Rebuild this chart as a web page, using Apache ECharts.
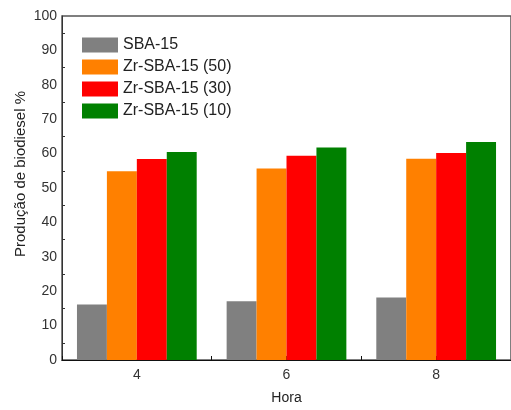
<!DOCTYPE html>
<html><head><meta charset="utf-8">
<script src="https://cdn.jsdelivr.net/npm/echarts@6/dist/echarts.min.js"></script>
<style>html,body{margin:0;padding:0;background:#fff}#c{width:511px;height:410px}</style>
</head><body><div id="c"></div>
<script>
var categories = ['4', '6', '8'];
var seriesNames = ['SBA-15', 'Zr-SBA-15 (50)', 'Zr-SBA-15 (30)', 'Zr-SBA-15 (10)'];
var sba15 = [16.1, 17.1, 18.2];
var zr50 = [54.9, 55.7, 58.5];
var zr30 = [58.4, 59.4, 60.2];
var zr10 = [60.5, 61.8, 63.4];
var colors = ['#808080', '#FF8000', '#FF0000', '#008000'];
var yTicks = [0, 10, 20, 30, 40, 50, 60, 70, 80, 90, 100];
var yName = 'Produção de biodiesel %';
var xName = 'Hora';

var values = [sba15, zr50, zr30, zr10];
var font = 'Liberation Sans, Arial, sans-serif';
var chart = echarts.init(document.getElementById('c'));
chart.setOption({
  animation: false,
  textStyle: {fontFamily: font},
  grid: {left: 62, top: 16, right: -4, bottom: 49, show: true, borderColor: '#555', borderWidth: 1.5},
  legend: {
    orient: 'vertical', left: 82, top: 37, padding: 0, itemWidth: 36, itemHeight: 15, itemGap: 6,
    textStyle: {fontSize: 16, lineHeight: 15, color: '#222', fontFamily: font, padding: [0, 0, 0, 0]},
    icon: 'rect', data: seriesNames
  },
  graphic: [{
    type: 'text', x: 21, y: 174, rotation: Math.PI / 2,
    style: {text: yName, fontSize: 15, fontFamily: font, fill: '#222', align: 'center', verticalAlign: 'middle'}
  }],
  xAxis: [{
    type: 'category', data: categories,
    name: xName, nameLocation: 'middle', nameGap: 31,
    nameTextStyle: {fontSize: 14, color: '#222'},
    axisLine: {lineStyle: {color: '#111', width: 1}},
    axisTick: {show: true, alignWithLabel: true, inside: true, length: 4, lineStyle: {color: '#111'}},
    axisLabel: {fontSize: 14, color: '#333', margin: 8}
  }, {
    type: 'category', data: categories, position: 'bottom',
    axisLine: {show: false}, axisLabel: {show: false},
    axisTick: {show: true, inside: true, length: 4, lineStyle: {color: '#111'}}
  }],
  yAxis: {
    type: 'value', min: 0, max: 100, interval: 10,
    axisLine: {show: true, lineStyle: {color: '#333'}},
    axisTick: {inside: true, length: 5, lineStyle: {color: '#333'}},
    minorTick: {show: true, splitNumber: 2, length: 3, lineStyle: {color: '#333'}},
    splitLine: {show: false},
    axisLabel: {fontSize: 14, color: '#333', margin: 5,
      formatter: function (v) { return yTicks.indexOf(v) >= 0 ? String(v) : ''; }}
  },
  series: seriesNames.map(function (n, i) {
    return {name: n, type: 'bar', data: values[i], barGap: '0%', barCategoryGap: '20%',
      itemStyle: {color: colors[i]}};
  })
});
</script></body></html>
